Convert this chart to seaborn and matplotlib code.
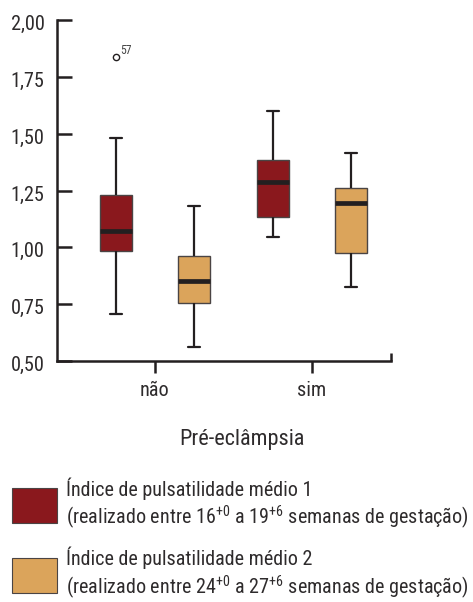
import matplotlib
matplotlib.use("Agg")
import matplotlib.pyplot as plt
from matplotlib import font_manager
from matplotlib.patches import Patch
from matplotlib.transforms import ScaledTranslation
import seaborn as sns
import pandas as pd

# ---- data ----
groups = ["não", "sim"]
series = ["Índice de pulsatilidade médio 1", "Índice de pulsatilidade médio 2"]
ip1_nao = [0.707, 0.88, 0.95, 0.982, 1.02, 1.05, 1.07, 1.12, 1.18, 1.229, 1.30, 1.479, 1.838]
ip2_nao = [0.563, 0.70, 0.756, 0.80, 0.852, 0.90, 0.961, 1.05, 1.18]
ip1_sim = [1.045, 1.10, 1.135, 1.22, 1.286, 1.33, 1.382, 1.48, 1.60]
ip2_sim = [0.826, 0.92, 0.973, 1.10, 1.196, 1.23, 1.262, 1.35, 1.415]
outlier_label = "57"
ytick_values = [0.50, 0.75, 1.00, 1.25, 1.50, 1.75, 2.00]
ytick_labels = ["0,50", "0,75", "1,00", "1,25", "1,50", "1,75", "2,00"]
legend_labels = [
    "Índice de pulsatilidade médio 1\n(realizado entre 16$^{+0}$ a 19$^{+6}$ semanas de gestação)",
    "Índice de pulsatilidade médio 2\n(realizado entre 24$^{+0}$ a 27$^{+6}$ semanas de gestação)",
]
xlabel = "Pré-eclâmpsia"

RED = "#8A181D"
ORANGE = "#DBA45B"
INK = "#231F20"
TXT = "#2e2b2c"

rows = []
for g, s, vals in [(groups[0], series[0], ip1_nao), (groups[0], series[1], ip2_nao),
                   (groups[1], series[0], ip1_sim), (groups[1], series[1], ip2_sim)]:
    for v in vals:
        rows.append({"pe": g, "serie": s, "ip": v})
df = pd.DataFrame(rows)

sns.set_theme(style="white")

# pick a condensed sans family (reference uses a condensed grotesque)
available = {f.name for f in font_manager.fontManager.ttflist}
prefs = ["Roboto Condensed", "Archivo Narrow", "PT Sans Narrow", "Liberation Sans Narrow",
         "Sofia Sans Semi Condensed", "Encode Sans Semi Condensed", "IBM Plex Sans Condensed",
         "Fira Sans Condensed", "Barlow Semi Condensed", "Liberation Sans"]
MAIN = next((p for p in prefs if p in available), "DejaVu Sans")
FONT = [MAIN, "DejaVu Sans"]
plt.rcParams["font.family"] = FONT
plt.rcParams["mathtext.fontset"] = "custom"
plt.rcParams["mathtext.rm"] = MAIN
plt.rcParams["mathtext.default"] = "regular"
plt.rcParams["text.color"] = TXT

fig = plt.figure(figsize=(4.73, 6.02), dpi=100)
renderer = fig.canvas.get_renderer()


def fit_size(text, target_px, base=15.0):
    t = fig.text(0, 0, text, fontsize=base)
    w = t.get_window_extent(renderer=renderer).width
    t.remove()
    return base * target_px / w


tick_fs = min(15.0, fit_size("2,00", 34))
xlab_fs = min(16.0, fit_size(xlabel, 131))
leg_fs = min(15.5, fit_size(legend_labels[0].split("\n")[1], 404))

ax = fig.add_axes([57 / 473, 1 - 361 / 602, (391 - 57) / 473, (361 - 20) / 602])

box_kws = dict(
    data=df, x="pe", y="ip", hue="serie", order=groups, hue_order=series,
    palette=[RED, ORANGE], width=0.99, gap=0.59, saturation=1, legend=False,
    linecolor=INK, linewidth=1.5, ax=ax,
    boxprops=dict(edgecolor="#4a4444", linewidth=1.0),
    medianprops=dict(color=INK, linewidth=3.4),
    whiskerprops=dict(color=INK, linewidth=1.6),
    capprops=dict(color=INK, linewidth=1.6),
    flierprops=dict(marker="o", markersize=4.5, markerfacecolor="white",
                    markeredgecolor=INK, markeredgewidth=1.0),
)
try:
    sns.boxplot(**box_kws, capwidths=0.078)
except Exception:
    ax.cla()
    sns.boxplot(**box_kws)

# label the outlier
for ln in ax.lines:
    xd, yd = ln.get_xdata(), ln.get_ydata()
    if ln.get_marker() == "o" and len(yd) > 0:
        ax.annotate(outlier_label, xy=(xd[0], yd[0]), xytext=(3, 2),
                    textcoords="offset points", fontsize=8.5, color="#444444")

xmin, xmax = -0.624, 1.503
ax.set_xlim(xmin, xmax)
ax.set_ylim(0.5, 2.0)
ax.set_yticks(ytick_values)
ax.set_yticklabels(ytick_labels)
ax.set_xticks(range(len(groups)))
ax.set_xticklabels(groups)
ax.set_xticks([xmax], minor=True)
ax.set_xlabel(xlabel, fontsize=xlab_fs, color=TXT)
ax.xaxis.set_label_coords((242 - 57) / (391 - 57), -0.2)
ax.set_ylabel("")

for side in ["top", "right"]:
    ax.spines[side].set_visible(False)
for side in ["left", "bottom"]:
    ax.spines[side].set_color(INK)
    ax.spines[side].set_linewidth(1.8)

ax.tick_params(axis="y", direction="in", length=11, width=1.8, color=INK,
               labelsize=tick_fs, labelcolor=TXT, pad=9, left=True)
ax.tick_params(axis="x", which="major", direction="out", length=8.5, width=1.8,
               color=INK, labelsize=tick_fs, labelcolor=TXT, pad=6, bottom=True)
ax.tick_params(axis="x", which="minor", direction="in", length=6, width=1.8,
               color=INK, bottom=True)
ax.grid(False)
# the reference's y labels sit a touch below their ticks
shift = ScaledTranslation(0, -2.5 / 100, fig.dpi_scale_trans)
for lab in ax.get_yticklabels():
    lab.set_transform(lab.get_transform() + shift)

# ---- legend, laid out in pixels to match the reference ----
fpx = leg_fs * 100 / 72
hh = (35 / fpx - 0.245) / 0.65
handles = [Patch(facecolor=RED, edgecolor="#4a4444", linewidth=0.8),
           Patch(facecolor=ORANGE, edgecolor="#4a4444", linewidth=0.8)]


def make_legend(anchor_top_px, labelspacing):
    return fig.legend(handles, legend_labels, loc="upper left",
                      bbox_to_anchor=(12 / 473, 1 - anchor_top_px / 602),
                      frameon=False, fontsize=leg_fs,
                      handlelength=45 / fpx, handleheight=hh,
                      handletextpad=9 / fpx, labelspacing=labelspacing,
                      borderaxespad=0, borderpad=0, labelcolor=TXT)


leg = make_legend(478, 1.0)
fig.canvas.draw()
t0, t1 = leg.get_texts()
b0 = t0.get_window_extent(renderer=renderer)
b1 = t1.get_window_extent(renderer=renderer)
pitch_now = b0.y1 - b1.y1          # distance between entry tops (px)
top_now = 602 - b0.y1              # first text top, px from figure top
want_top = 477.0
want_pitch = min(79.0, (601.0 - want_top) - b1.height)
ls = 1.0 + (want_pitch - pitch_now) / fpx
leg.remove()
leg = make_legend(478 + (want_top - top_now), ls)

fig.savefig("out.png", dpi=100)
